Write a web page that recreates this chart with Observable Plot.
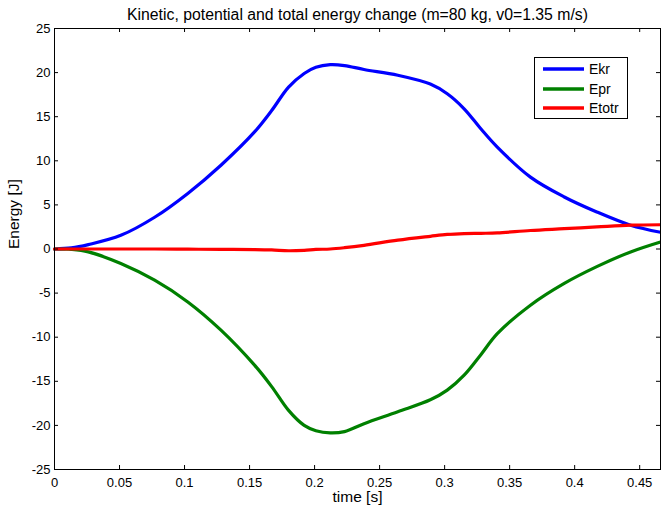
<!DOCTYPE html>
<html>
<head>
<meta charset="utf-8">
<script src="https://cdn.jsdelivr.net/npm/d3@7"></script>
<script src="https://cdn.jsdelivr.net/npm/@observablehq/plot@0.6"></script>
<style>
  html, body { margin: 0; padding: 0; background: #fff; }
  #wrap { position: relative; width: 661px; height: 510px; font-family: "Liberation Sans", Arial, sans-serif; }
  #legend { position: absolute; left: 534px; top: 57px; width: 92px; height: 60px; border: 1px solid #000; background: #fff; }
  .row { position: absolute; left: 0; height: 20px; display: flex; align-items: center; font-size: 14px; color: #000; }
  .row svg { margin-left: 8px; margin-right: 5px; }
</style>
</head>
<body>
<div id="wrap"></div>
<script>
const title = "Kinetic, potential and total energy change (m=80 kg, v0=1.35 m/s)";
const xLabel = "time [s]";
const yLabel = "Energy [J]";
const seriesNames = ["Ekr", "Epr", "Etotr"];
const seriesColors = ["#0000ff", "#008000", "#ff0000"];

const t     = [0, 0.013, 0.026, 0.051, 0.077, 0.1025, 0.128, 0.154, 0.167, 0.18, 0.192, 0.201, 0.212, 0.223, 0.238, 0.264, 0.289, 0.302, 0.315, 0.328, 0.3405, 0.366, 0.392, 0.417, 0.443, 0.466];
const ekr   = [0, 0.12, 0.5, 1.55, 3.6, 6.3, 9.5, 13.3, 15.7, 18.35, 19.9, 20.6, 20.9, 20.8, 20.35, 19.7, 18.7, 17.6, 15.9, 13.6, 11.55, 8.15, 5.9, 4.2, 2.7, 1.9];
const epr   = [0, -0.05, -0.33, -1.65, -3.54, -6.0, -9.2, -13.2, -15.6, -18.3, -20.0, -20.6, -20.85, -20.7, -19.8, -18.45, -17.1, -16.0, -14.3, -11.95, -9.6, -6.37, -3.9, -2.0, -0.33, 0.8];
const etotr = [0, 0, 0, 0, 0, -0.02, -0.05, -0.06, -0.1, -0.2, -0.15, -0.05, 0.0, 0.15, 0.42, 1.0, 1.44, 1.65, 1.75, 1.78, 1.82, 2.1, 2.3, 2.5, 2.7, 2.75];

const xTicks = [0, 0.05, 0.1, 0.15, 0.2, 0.25, 0.3, 0.35, 0.4, 0.45];
const yTicks = [-25, -20, -15, -10, -5, 0, 5, 10, 15, 20, 25];
const xDomain = [0, 0.466];
const yDomain = [-25, 25];

const valuesBySeries = [ekr, epr, etotr];
const data = [];
seriesNames.forEach((s, i) => t.forEach((tt, j) => data.push({series: s, t: tt, e: valuesBySeries[i][j]})));

const W = 661, H = 510, mL = 54, mR = 1, mT = 28, mB = 41;
const frameH = H - mT - mB, frameW = W - mL - mR;

const chart = Plot.plot({
  width: W, height: H,
  marginLeft: mL, marginRight: mR, marginTop: mT, marginBottom: mB,
  style: {fontFamily: '"Liberation Sans", Arial, sans-serif', fontSize: "13px", color: "#000", background: "#fff"},
  x: {domain: xDomain},
  y: {domain: yDomain},
  color: {domain: seriesNames, range: seriesColors},
  marks: [
    Plot.line(data, {x: "t", y: "e", z: "series", stroke: "series", strokeWidth: 3.2, curve: "catmull-rom"}),
    Plot.frame({stroke: "#000", strokeWidth: 1}),
    // inward ticks (MATLAB style)
    Plot.tickX(xTicks, {x: d => d, insetTop: frameH - 4, stroke: "#000"}),
    Plot.tickX(xTicks, {x: d => d, insetBottom: frameH - 4, stroke: "#000"}),
    Plot.tickY(yTicks, {y: d => d, insetRight: frameW - 4, stroke: "#000"}),
    Plot.tickY(yTicks, {y: d => d, insetLeft: frameW - 4, stroke: "#000"}),
    Plot.axisX(xTicks, {tickSize: 0, tickPadding: 8, tickFormat: d => String(d), label: null, fontSize: 13}),
    Plot.axisY(yTicks, {tickSize: 0, tickPadding: 4, tickFormat: d => String(d), label: null, fontSize: 13}),
    Plot.text([title], {frameAnchor: "top", lineAnchor: "middle", dy: -14, text: d => d, fontSize: 15.8}),
    Plot.text([xLabel], {frameAnchor: "bottom", lineAnchor: "middle", dy: 28, text: d => d, fontSize: 15.5}),
    Plot.text([yLabel], {frameAnchor: "left", lineAnchor: "middle", dx: -40, rotate: -90, text: d => d, fontSize: 15.5})
  ]
});

const wrap = document.getElementById("wrap");
wrap.appendChild(chart);

const legend = document.createElement("div");
legend.id = "legend";
seriesNames.forEach((name, i) => {
  const row = document.createElement("div");
  row.className = "row";
  row.style.top = (1 + i * 19.5) + "px";
  row.innerHTML = `<svg width="41" height="6"><line x1="0" x2="41" y1="3" y2="3" stroke="${seriesColors[i]}" stroke-width="3.5"/></svg><span>${name}</span>`;
  legend.appendChild(row);
});
wrap.appendChild(legend);
</script>
</body>
</html>
